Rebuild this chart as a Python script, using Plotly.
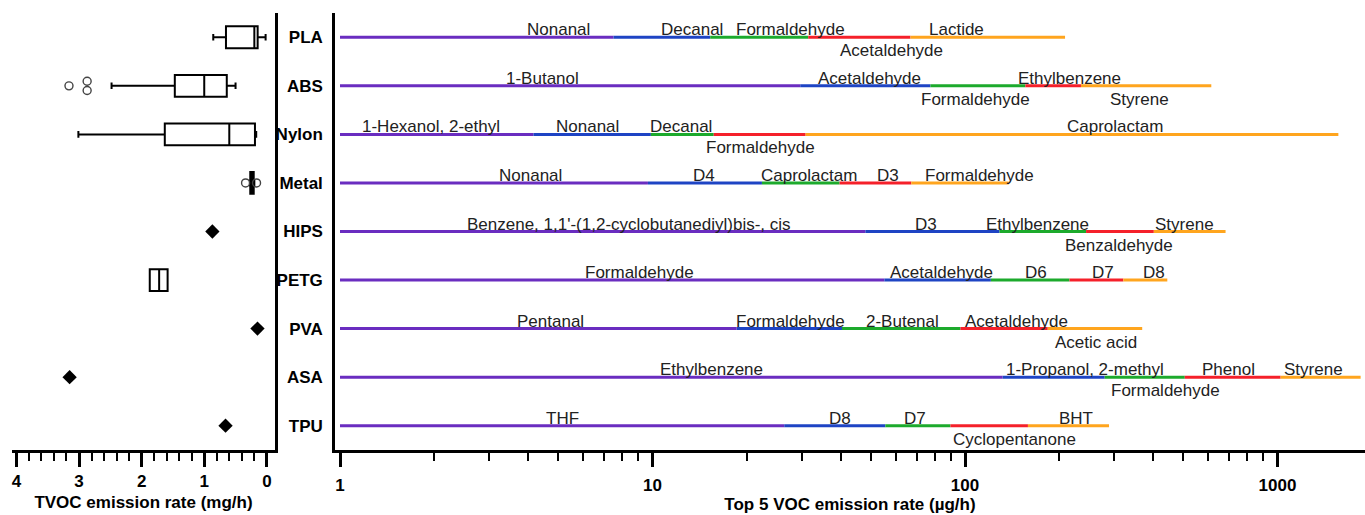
import math
import plotly.graph_objects as go

# ---------------------------------------------------------------- data
materials = ["PLA", "ABS", "Nylon", "Metal", "HIPS", "PETG", "PVA", "ASA", "TPU"]

# TVOC emission rate (mg/h): materials with repeated prints shown as boxes
box_materials = ["PLA", "ABS", "Nylon", "Metal", "PETG"]
box_min = [0.02, 0.50, 0.17, 0.20, 1.585]
box_q1 = [0.147, 0.64, 0.19, 0.21, 1.585]
box_median = [0.20, 1.00, 0.60, 0.235, 1.72]
box_q3 = [0.653, 1.47, 1.63, 0.265, 1.87]
box_max = [0.856, 2.48, 3.01, 0.27, 1.87]

outlier_materials = ["ABS", "ABS", "ABS", "Metal", "Metal"]
outlier_values = [3.16, 2.87, 2.87, 0.34, 0.165]

# materials with a single measurement
single_materials = ["HIPS", "PVA", "ASA", "TPU"]
single_values = [0.87, 0.15, 3.15, 0.66]

# Top 5 VOCs per material, emission rate (ug/h), ascending
pla_voc = ["Nonanal", "Decanal", "Formaldehyde", "Acetaldehyde", "Lactide"]
pla_rate = [7.5, 15.3, 31.5, 66.9, 209]
abs_voc = ["1-Butanol", "Acetaldehyde", "Formaldehyde", "Ethylbenzene", "Styrene"]
abs_rate = [29.7, 77.5, 156, 235, 614]
nylon_voc = ["1-Hexanol, 2-ethyl", "Nonanal", "Decanal", "Formaldehyde", "Caprolactam"]
nylon_rate = [4.16, 9.88, 15.7, 30.9, 1566]
metal_voc = ["Nonanal", "D4", "Caprolactam", "D3", "Formaldehyde"]
metal_rate = [9.67, 22.4, 39.7, 67.3, 138]
hips_voc = ["Benzene, 1,1'-(1,2-cyclobutanediyl)bis-, cis", "D3", "Ethylbenzene",
            "Benzaldehyde", "Styrene"]
hips_rate = [48, 129, 244, 402, 682]
petg_voc = ["Formaldehyde", "Acetaldehyde", "D6", "D7", "D8"]
petg_rate = [55.2, 121, 216, 321, 444]
pva_voc = ["Pentanal", "Formaldehyde", "2-Butenal", "Acetaldehyde", "Acetic acid"]
pva_rate = [18.6, 40.4, 96.7, 184, 369]
asa_voc = ["Ethylbenzene", "1-Propanol, 2-methyl", "Formaldehyde", "Phenol", "Styrene"]
asa_rate = [132, 280, 505, 1023, 1845]
tpu_voc = ["THF", "D8", "D7", "Cyclopentanone", "BHT"]
tpu_rate = [26.4, 55.6, 89.8, 159, 289]

voc_names = [pla_voc, abs_voc, nylon_voc, metal_voc, hips_voc,
             petg_voc, pva_voc, asa_voc, tpu_voc]
voc_rates = [pla_rate, abs_rate, nylon_rate, metal_rate, hips_rate,
             petg_rate, pva_rate, asa_rate, tpu_rate]

# ---------------------------------------------------------------- styling
segment_colors = ["#6a2dc0", "#1e44c4", "#1caa2c", "#f5202a", "#ffa51e"]

# label placement along each segment: side ("a" above / "b" below),
# fraction of the segment (log space) where the label is centred
label_place = [
    [("a", 0.80), ("a", 0.81), ("a", 0.82), ("b", 0.81), ("a", 0.30)],
    [("a", 0.44), ("a", 0.53), ("b", 0.47), ("a", 0.79), ("b", 0.45)],
    [("a", 0.47), ("a", 0.46), ("a", 0.48), ("b", 0.51), ("a", 0.58)],
    [("a", 0.62), ("a", 0.49), ("a", 0.60), ("a", 0.68), ("a", 0.70)],
    [("a", 0.55), ("a", 0.45), ("a", 0.44), ("b", 0.49), ("a", 0.43)],
    [("a", 0.55), ("a", 0.54), ("a", 0.57), ("a", 0.63), ("a", 0.69)],
    [("a", 0.53), ("a", 0.51), ("a", 0.51), ("a", 0.64), ("b", 0.51)],
    [("a", 0.56), ("a", 0.81), ("b", 0.76), ("a", 0.46), ("a", 0.41)],
    [("a", 0.50), ("a", 0.55), ("a", 0.46), ("b", 0.83), ("a", 0.59)],
]

FONT = "Liberation Sans, Arial, sans-serif"
W, H = 1365, 515
row_of = {m: i for i, m in enumerate(materials)}

fig = go.Figure()

# ---------------------------------------------------------------- left panel
for k, m in enumerate(box_materials):
    fig.add_trace(go.Box(
        y=[row_of[m]], q1=[box_q1[k]], median=[box_median[k]], q3=[box_q3[k]],
        lowerfence=[box_min[k]], upperfence=[box_max[k]],
        orientation="h", width=0.45, whiskerwidth=0.3, boxpoints=False,
        fillcolor="white", line=dict(color="black", width=2),
        xaxis="x", yaxis="y", showlegend=False, hoverinfo="skip"))

# outliers: coincident values are spread vertically so both stay visible
out_y = []
for j, (m, v) in enumerate(zip(outlier_materials, outlier_values)):
    same = [i for i, (mm, vv) in enumerate(zip(outlier_materials, outlier_values))
            if mm == m and vv == v]
    if len(same) > 1:
        pos = same.index(j)
        out_y.append(row_of[m] + (pos - (len(same) - 1) / 2) * 0.19)
    else:
        out_y.append(row_of[m])
fig.add_trace(go.Scatter(
    x=outlier_values, y=out_y, mode="markers", xaxis="x", yaxis="y",
    marker=dict(symbol="circle-open", size=8, color="#444", line=dict(width=1.4)),
    showlegend=False, hoverinfo="skip"))

fig.add_trace(go.Scatter(
    x=single_values, y=[row_of[m] for m in single_materials], mode="markers",
    xaxis="x", yaxis="y",
    marker=dict(symbol="diamond", size=11, color="black"),
    showlegend=False, hoverinfo="skip"))

# ---------------------------------------------------------------- right panel
annotations = []
for i, (names, rates) in enumerate(zip(voc_names, voc_rates)):
    start = 1.0
    for k, (name, rate) in enumerate(zip(names, rates)):
        fig.add_trace(go.Scatter(
            x=[start, rate], y=[i, i], mode="lines", xaxis="x2", yaxis="y2",
            line=dict(color=segment_colors[k], width=3),
            showlegend=False, hoverinfo="skip"))
        side, frac = label_place[i][k]
        lx = math.log10(start) + frac * (math.log10(rate) - math.log10(start))
        annotations.append(dict(
            x=lx, y=i, xref="x2", yref="y2", text=name, showarrow=False,
            xanchor="center", yanchor="bottom" if side == "a" else "top",
            yshift=-4 if side == "a" else -2,
            font=dict(family=FONT, size=17, color="#222")))
        start = rate

# ---------------------------------------------------------------- axes
y_dom = [(H - 450) / H, (H - 13) / H]
tick_font = dict(family=FONT, size=17, color="black", weight="bold")
title_font = dict(family=FONT, size=17, color="black", weight="bold")

fig.update_layout(
    width=W, height=H, margin=dict(l=0, r=0, t=0, b=0),
    paper_bgcolor="white", plot_bgcolor="white",
    annotations=annotations,
    xaxis=dict(
        domain=[12 / W, 275 / W], range=[4.07, -0.13], anchor="y",
        showline=True, linewidth=2.5, linecolor="black",
        ticks="outside", ticklen=14, tickwidth=2.5, tickcolor="black",
        tickvals=[0, 1, 2, 3, 4], ticktext=["0", "1", "2", "3", "4"],
        minor=dict(tickmode="array",
                   tickvals=[v / 5 for v in range(21) if v % 5],
                   ticks="outside", ticklen=8, tickwidth=2, tickcolor="black",
                   showgrid=False),
        tickfont=tick_font, showgrid=False, zeroline=False,
        title=dict(text="TVOC emission rate (mg/h)", font=title_font, standoff=6)),
    yaxis=dict(
        domain=y_dom, range=[8.5, -0.5], anchor="x", side="right",
        showline=True, linewidth=2.5, linecolor="black",
        showticklabels=False, ticks="", showgrid=False, zeroline=False),
    xaxis2=dict(
        domain=[335 / W, 1.0], type="log", range=[-0.016, 3.28], anchor="y2",
        showline=True, linewidth=2.5, linecolor="black",
        ticks="outside", ticklen=14, tickwidth=2.5, tickcolor="black",
        tickvals=[1, 10, 100, 1000], ticktext=["1", "10", "100", "1000"],
        minor=dict(tickmode="array",
                   tickvals=[m * d for d in (1, 10, 100, 1000) for m in range(2, 10)
                             if m * d < 1900],
                   ticks="outside", ticklen=8, tickwidth=2, tickcolor="black",
                   showgrid=False),
        tickfont=tick_font, ticklabelstandoff=4, showgrid=False, zeroline=False,
        title=dict(text="Top 5 VOC emission rate (µg/h)", font=title_font, standoff=4)),
    yaxis2=dict(
        domain=y_dom, range=[8.5, -0.5], anchor="x2",
        showline=True, linewidth=2.5, linecolor="black",
        tickvals=list(range(len(materials))), ticktext=materials,
        ticks="", ticklabelstandoff=6, tickfont=tick_font,
        showgrid=False, zeroline=False),
)

fig.write_html("out.html")
